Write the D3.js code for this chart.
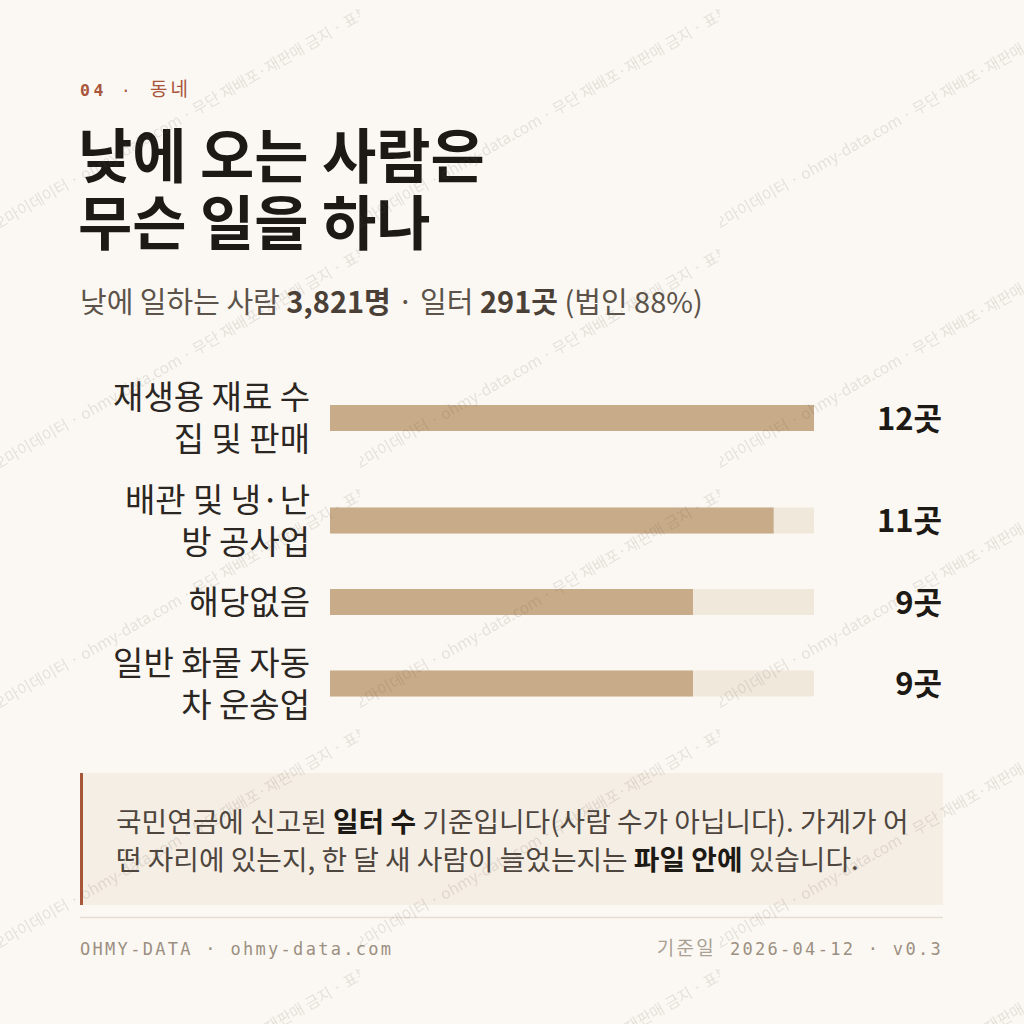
<!DOCTYPE html>
<html>
<head>
<meta charset="utf-8">
<script src="https://cdn.jsdelivr.net/npm/d3@7"></script>
<style>
  html, body { margin: 0; padding: 0; background: #fbf8f3; }
  svg { display: block; }
  .kr { font-family: "Noto Sans CJK KR", "Noto Sans", sans-serif; }
  .mono { font-family: "DejaVu Sans Mono", "Noto Sans CJK KR", monospace; }
</style>
</head>
<body>
<svg id="chart" width="1024" height="1024"></svg>
<script>
// ---- data ----
const categories = ["재생용 재료 수집 및 판매", "배관 및 냉·난방 공사업", "해당없음", "일반 화물 자동차 운송업"];
const categoryLines = [["재생용 재료 수", "집 및 판매"], ["배관 및 냉·난", "방 공사업"], ["해당없음"], ["일반 화물 자동", "차 운송업"]];
const values = [12, 11, 9, 9];
const unit = "곳";
const kicker = ["04", "·", "동네"];
const titleLines = ["낮에 오는 사람은", "무슨 일을 하나"];
const subtitleParts = [["낮에 일하는 사람 ", false], ["3,821명", true], [" · 일터 ", false], ["291곳", true], [" (법인 88%)", false]];
const noteLines = [
  [["국민연금에 신고된 ", false], ["일터 수", true], [" 기준입니다(사람 수가 아닙니다). 가게가 어", false]],
  [["떤 자리에 있는지, 한 달 새 사람이 늘었는지는 ", false], ["파일 안에", true], [" 있습니다.", false]]
];
const footerLeft = "OHMY-DATA · ohmy-data.com";
const footerRight = ["기준일", "2026-04-12 · v0.3"];
const watermark = "오마이데이터 · ohmy-data.com · 무단 재배포·재판매 금지 · 표본";

// ---- drawing ----
const svg = d3.select("#chart");
svg.append("rect").attr("width", 1024).attr("height", 1024).attr("fill", "#fbf8f3");

// kicker
const k = svg.append("text").attr("class", "mono").attr("y", 96).attr("fill", "#a8553a");
k.append("tspan").attr("x", 80).attr("font-size", 16.5).attr("font-weight", "bold").attr("letter-spacing", 3.5).text(kicker[0]);
k.append("tspan").attr("x", 121).attr("font-size", 16).text(kicker[1]);
k.append("tspan").attr("x", 150).attr("font-size", 19).attr("letter-spacing", 3).text(kicker[2]);

// title
svg.append("g").selectAll("text").data(titleLines).join("text")
  .attr("class", "kr").attr("x", 78).attr("y", (d, i) => 178 + i * 67)
  .attr("font-size", 59).attr("font-weight", 700).attr("fill", "#1d1a16")
  .text(d => d);

// subtitle
const st = svg.append("text").attr("class", "kr").attr("x", 80).attr("y", 313)
  .attr("font-size", 29).attr("fill", "#5c534a");
st.selectAll("tspan").data(subtitleParts).join("tspan")
  .attr("font-weight", d => d[1] ? 700 : 400)
  .attr("fill", d => d[1] ? "#4a4037" : "#5c534a")
  .text(d => d[0]);

// bars
const lineH = 42, rowGap = 18.5, startY = 376;
const rows = [];
let yCur = startY;
categoryLines.forEach((lines, i) => {
  const h = lines.length * lineH;
  rows.push({ name: categories[i], lines, value: values[i], top: yCur, h, center: yCur + h / 2 });
  yCur += h + rowGap;
});
const x = d3.scaleLinear().domain([0, d3.max(values)]).range([330, 814]);
const barH = 26;

const g = svg.append("g");
const row = g.selectAll("g.row").data(rows).join("g").attr("class", "row");
row.append("rect").attr("x", x(0)).attr("width", x(d3.max(values)) - x(0))
  .attr("y", d => d.center - barH / 2).attr("height", barH).attr("fill", "#f1e8dc");
row.append("rect").attr("x", x(0)).attr("width", d => x(d.value) - x(0))
  .attr("y", d => d.center - barH / 2).attr("height", barH).attr("fill", "#c8ab89");
row.each(function (d) {
  const t = d3.select(this).append("text").attr("class", "kr").attr("text-anchor", "end")
    .attr("font-size", 33).attr("fill", "#2b2621");
  d.lines.forEach((ln, j) => {
    const cy = d.center + (j - (d.lines.length - 1) / 2) * lineH;
    t.append("tspan").attr("x", 310).attr("y", cy + 12).text(ln);
  });
});
row.append("text").attr("class", "kr").attr("text-anchor", "end").attr("x", 942)
  .attr("y", d => d.center + 11.5).attr("font-size", 31).attr("font-weight", 700).attr("fill", "#1d1a16")
  .text(d => d.value + unit);

// note box
svg.append("rect").attr("x", 80).attr("y", 773).attr("width", 863).attr("height", 132).attr("fill", "#f5eee4");
svg.append("rect").attr("x", 80).attr("y", 773).attr("width", 3).attr("height", 132).attr("fill", "#a8553a");
noteLines.forEach((parts, i) => {
  const t = svg.append("text").attr("class", "kr").attr("x", 116).attr("y", 832 + i * 38)
    .attr("font-size", 27.8).attr("fill", "#4e463e");
  t.selectAll("tspan").data(parts).join("tspan")
    .attr("font-weight", d => d[1] ? 700 : 400)
    .attr("fill", d => d[1] ? "#1d1a16" : "#4e463e")
    .text(d => d[0]);
});

// separator + footer
svg.append("line").attr("x1", 80).attr("x2", 943).attr("y1", 917.5).attr("y2", 917.5)
  .attr("stroke", "#e6ded2").attr("stroke-width", 1.5);
svg.append("text").attr("class", "mono").attr("x", 80).attr("y", 955).attr("font-size", 17)
  .attr("letter-spacing", 2.3).attr("fill", "#9b8f81").text(footerLeft);
const fr = svg.append("text").attr("class", "mono").attr("x", 943).attr("y", 955).attr("font-size", 17)
  .attr("text-anchor", "end").attr("letter-spacing", 2.3).attr("fill", "#9b8f81");
fr.append("tspan").attr("fill", "#aaa094").attr("font-size", 19).text(footerRight[0] + " ");
fr.append("tspan").text(footerRight[1]);

// watermark
const defs = svg.append("defs");
const pat = defs.append("pattern").attr("id", "wm").attr("patternUnits", "userSpaceOnUse")
  .attr("width", 360).attr("height", 240);
pat.append("text").attr("class", "kr").attr("x", 182).attr("y", 119).attr("text-anchor", "middle")
  .attr("dominant-baseline", "middle").attr("font-size", 15.5)
  .attr("transform", "rotate(-30 182 119)").attr("fill", "rgba(90,78,66,0.14)")
  .text(watermark);
svg.append("rect").attr("width", 1024).attr("height", 1024).attr("fill", "url(#wm)").attr("pointer-events", "none");
</script>
</body>
</html>
